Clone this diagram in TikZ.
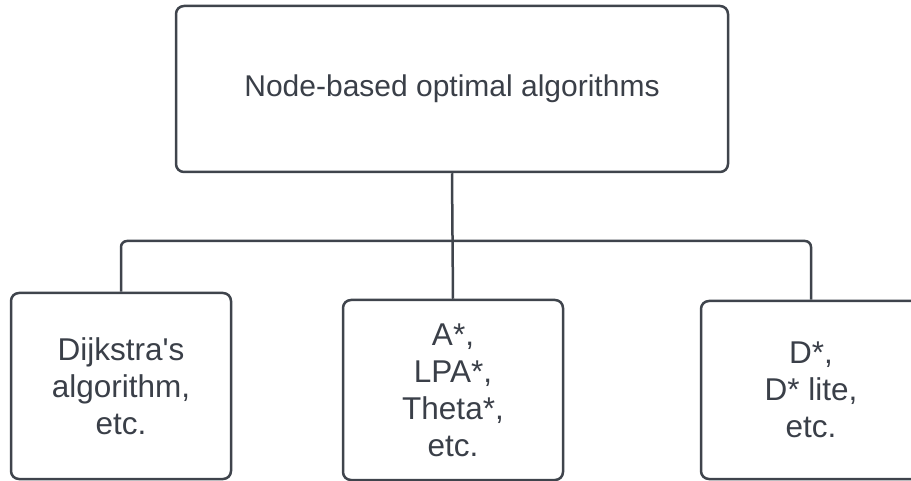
\documentclass[tikz,border=0pt]{standalone}
\usepackage{fontspec}
\setmainfont{Liberation Sans}
\definecolor{ln}{HTML}{3F444C}
\definecolor{tx}{HTML}{3A3F48}
\begin{document}
\begin{tikzpicture}[x=1pt,y=-1pt,
  box/.style={draw=ln, line width=2.5pt, rounded corners=8pt, inner sep=0pt, text=tx, align=center, font=\fontsize{30}{37}\selectfont},
  small/.style={font=\fontsize{31.5}{37}\selectfont},
  link/.style={draw=ln, line width=2.5pt}]
\useasboundingbox (0,0) rectangle (911,481);
\node[box, minimum width=552pt, minimum height=166pt] (top) at (452,89) {Node-based optimal algorithms};
\node[box, small, minimum width=220pt, minimum height=186pt] (a) at (121,386) {Dijkstra\textquotesingle s\\algorithm,\\etc.};
\node[box, small, minimum width=220pt, minimum height=180pt] (b) at (453,390) {A*,\\LPA*,\\Theta*,\\etc.};
\node[box, small, minimum width=220pt, minimum height=178pt] (c) at (811,390) {D*,\\D* lite,\\etc.};
\coordinate (bus) at (452,241);
\draw[link] (top.south) -- (b.north);
\draw[link, rounded corners=6pt] (a.north) |- (bus) -| (c.north);
\end{tikzpicture}
\end{document}
